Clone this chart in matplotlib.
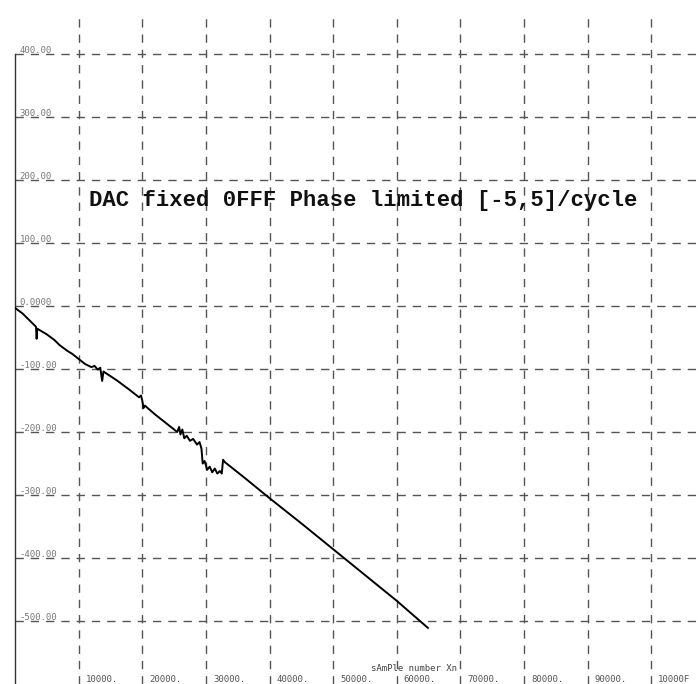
import numpy as np
from matplotlib import pyplot as plt

# 曲线折点
sample_n = [0, 1200, 2000, 3300, 3400, 3500, 5000, 6200, 7000, 8200, 9000,
            10000, 11000, 12000, 12500, 13000, 13400, 13700, 13900, 14500,
            16000, 17200, 18000, 19500, 19800, 20000, 20200, 20400, 22000,
            24000, 25500, 25800, 26000, 26300, 26600, 27000, 27500, 28000,
            28600, 29000, 29300, 29500, 29800, 30200, 30600, 31000, 31400,
            31800, 32200, 32500, 32700, 33000, 36000, 40000, 45000, 50000,
            55000, 60000, 64900]
phase = [-3, -12, -20, -33, -52, -36, -45, -54, -62, -71, -76,
         -84, -92, -97, -95, -101, -98, -119, -104, -108,
         -118, -127, -133, -145, -142, -150, -162, -158, -172,
         -188, -200, -192, -204, -196, -210, -206, -214, -211,
         -220, -216, -226, -250, -246, -260, -255, -264, -258,
         -266, -262, -266, -244, -248, -272, -305, -345, -386,
         -427, -468, -511]

x_grid = [10000, 20000, 30000, 40000, 50000, 60000, 70000, 80000, 90000, 100000]
x_labels = ['10000.', '20000.', '30000.', '40000.', '50000.', '60000.',
            '70000.', '80000.', '90000.', '10000F']
y_grid = [400, 300, 200, 100, 0, -100, -200, -300, -400, -500]
y_labels = ['400.00', '300.00', '200.00', '100.00', '0.0000', '-100.00',
            '-200.00', '-300.00', '-400.00', '-500.00']

title = 'DAC fixed 0FFF Phase limited [-5,5]/cycle'
x_name = 'sAmPle number Xn'

fig = plt.figure(figsize=(6.99, 6.84), dpi=100)
ax = fig.add_axes([15 / 699, 0, 684 / 699, 672 / 684])
ax.set_xlim(0, 107500)
ax.set_ylim(-600, 466.7)

# 网格线
for gx in x_grid:
    ax.axvline(gx, color='#555555', lw=1.0, ls=(0, (6, 5)), zorder=1)
for gy in y_grid:
    ax.axhline(gy, color='#555555', lw=1.0, ls=(0, (6, 5)), zorder=1)

# 坐标轴
for s in ['top', 'right', 'bottom']:
    ax.spines[s].set_visible(False)
ax.spines['left'].set_bounds(-600, 400)
ax.spines['left'].set_color('#333333')
ax.spines['left'].set_linewidth(1.0)
ax.set_xticks([])
ax.set_yticks([])

# 刻度文字
for gy, lab in zip(y_grid, y_labels):
    ax.text(700, gy - 1, lab, ha='left', va='bottom', fontsize=6.5,
            family='DejaVu Sans Mono', color='#777777')
for gx, lab in zip(x_grid, x_labels):
    ax.text(gx + 1100, -593, lab, ha='left', va='center', fontsize=6.5,
            family='DejaVu Sans Mono', color='#555555')
ax.text(69500, -575, x_name, ha='right', va='center', fontsize=6.5,
        family='DejaVu Sans Mono', color='#444444')

# 曲线
ax.plot(sample_n, phase, color='black', lw=1.4, zorder=3)

ax.text(54700, 168, title, ha='center', va='center', fontsize=16,
        family='Liberation Mono', fontweight='bold', color='#111111')

fig.savefig('out.png', dpi=100, facecolor='white')
